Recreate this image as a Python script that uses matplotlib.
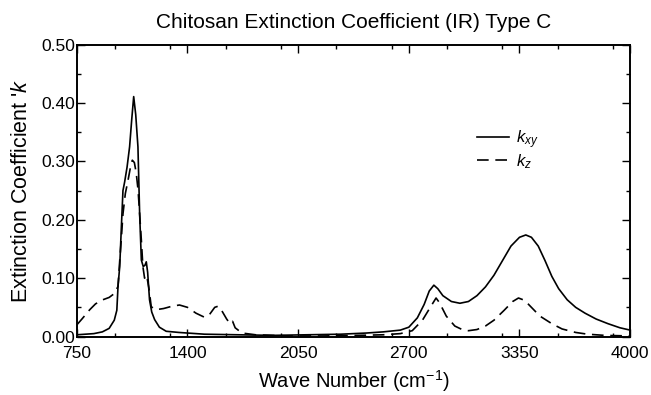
import matplotlib
matplotlib.use("Agg")
import matplotlib.pyplot as plt
from matplotlib.ticker import MultipleLocator

plt.rcParams["font.family"] = ["Liberation Sans", "DejaVu Sans"]
plt.rcParams["mathtext.fontset"] = "custom"
plt.rcParams["mathtext.it"] = "Liberation Sans:italic"
plt.rcParams["mathtext.rm"] = "Liberation Sans"

# ── data ─────────────────────────────────────────────────────────────────────
wn_xy = [750, 800, 850, 900, 940, 970, 985, 992, 1002, 1012, 1021, 1031, 1045,
         1060, 1072, 1084, 1096, 1109, 1119, 1129, 1140, 1150, 1158, 1166, 1177,
         1190, 1207, 1235, 1275, 1350, 1400, 1500, 1700, 1900, 2100, 2300, 2450,
         2550, 2650, 2700, 2750, 2790, 2820, 2847, 2870, 2900, 2950, 3000, 3050,
         3100, 3150, 3200, 3250, 3300, 3350, 3387, 3420, 3460, 3500, 3540, 3580,
         3630, 3680, 3735, 3800, 3870, 3940, 4000]
k_xy = [0.003, 0.004, 0.005, 0.008, 0.014, 0.028, 0.045, 0.086, 0.120, 0.190,
        0.250, 0.265, 0.290, 0.325, 0.370, 0.411, 0.380, 0.325, 0.210, 0.131,
        0.120, 0.122, 0.128, 0.110, 0.063, 0.042, 0.029, 0.016, 0.009, 0.007,
        0.006, 0.004, 0.003, 0.002, 0.003, 0.004, 0.006, 0.008, 0.011, 0.016,
        0.032, 0.055, 0.078, 0.088, 0.082, 0.070, 0.060, 0.057, 0.060, 0.070,
        0.085, 0.105, 0.130, 0.155, 0.170, 0.174, 0.170, 0.155, 0.130, 0.103,
        0.082, 0.063, 0.050, 0.040, 0.030, 0.022, 0.015, 0.011]

wn_z = [750, 780, 826, 860, 903, 940, 972, 992, 1002, 1012, 1021, 1035, 1051,
        1065, 1076, 1088, 1099, 1110, 1119, 1129, 1138, 1148, 1160, 1175, 1187,
        1216, 1260, 1310, 1353, 1400, 1450, 1500, 1530, 1560, 1580, 1600, 1630,
        1650, 1665, 1680, 1720, 1800, 2000, 2200, 2400, 2550, 2650, 2720, 2780,
        2830, 2860, 2880, 2920, 2970, 3020, 3050, 3100, 3150, 3200, 3260, 3310,
        3344, 3380, 3420, 3470, 3540, 3600, 3680, 3750, 3850, 4000]
k_z = [0.020, 0.030, 0.046, 0.056, 0.063, 0.067, 0.074, 0.086, 0.130, 0.170,
       0.210, 0.245, 0.268, 0.290, 0.302, 0.298, 0.280, 0.250, 0.210, 0.165,
       0.120, 0.100, 0.105, 0.080, 0.051, 0.046, 0.048, 0.052, 0.054, 0.050,
       0.040, 0.033, 0.038, 0.050, 0.052, 0.045, 0.030, 0.022, 0.026, 0.015,
       0.006, 0.003, 0.001, 0.001, 0.002, 0.003, 0.005, 0.010, 0.028, 0.052,
       0.066, 0.058, 0.035, 0.018, 0.011, 0.010, 0.012, 0.018, 0.028, 0.045,
       0.060, 0.066, 0.062, 0.050, 0.035, 0.022, 0.013, 0.007, 0.004, 0.002,
       0.001]

x_ticks = [750, 1400, 2050, 2700, 3350, 4000]
y_ticks = [0.00, 0.10, 0.20, 0.30, 0.40, 0.50]

# ── plot ─────────────────────────────────────────────────────────────────────
fig = plt.figure(figsize=(6.51, 3.95), dpi=100)
ax = fig.add_axes([0.118, 0.148, 0.850, 0.739])

ax.plot(wn_xy, k_xy, color="black", lw=1.2, label="$k_{xy}$")
ax.plot(wn_z, k_z, color="black", lw=1.2, dashes=(7, 4), label="$k_{z}$")

ax.set_xlim(750, 4000)
ax.set_ylim(0, 0.5)
ax.set_xticks(x_ticks)
ax.set_yticks(y_ticks)
ax.set_yticklabels([f"{v:.2f}" for v in y_ticks])
ax.xaxis.set_minor_locator(MultipleLocator(325))
ax.yaxis.set_minor_locator(MultipleLocator(0.05))
ax.tick_params(which="both", direction="in", top=True, right=True, labelsize=12.5)
ax.tick_params(axis="x", pad=7)
ax.tick_params(axis="y", pad=1)
ax.tick_params(which="major", length=6, width=1)
ax.tick_params(which="minor", length=3, width=1)
for sp in ax.spines.values():
    sp.set_linewidth(1.4)

ax.set_title("Chitosan Extinction Coefficient (IR) Type C", fontsize=15, pad=12)
ax.set_xlabel("Wave Number (cm$^{-1}$)", fontsize=14.5, labelpad=5)
ax.set_ylabel("Extinction Coefficient '$k$", fontsize=15.5, labelpad=7)

ax.legend(loc="upper left", bbox_to_anchor=(0.733, 0.675),
          bbox_transform=fig.transFigure, frameon=False, borderpad=0,
          borderaxespad=0, fontsize=12, handlelength=1.9, handletextpad=0.4,
          labelspacing=0.05)

plt.savefig("out.png", dpi=100)
